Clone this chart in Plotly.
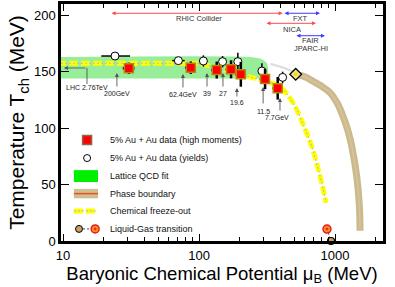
import numpy as np
import plotly.graph_objects as go

# ---------------- data ----------------
energies = ["200GeV", "62.4GeV", "39", "27", "19.6", "11.5", "7.7GeV"]

# 5% Au+Au high moments (red squares)
mu_moments = [30.5, 87, 135, 172, 203, 306, 379]
T_moments = [153.0, 153.6, 151.5, 152.1, 147.7, 143.5, 135.3]
T_moments_err = [5, 5.5, 7.5, 8, 11, 9, 10]
mu_moments_err = [3, 8, 12, 15, 18, 26, 32]

# 5% Au+Au yields (open circles)
mu_yields = [24.1, 70.5, 107.7, 149, 193, 290, 412]
T_yields = [163.9, 159.8, 159.5, 158.9, 158.9, 150.6, 145.0]
T_yields_err = [2, 3, 5, 5, 8, 7, 5]
mu_yields_err_plus = [7, 8, 6, 7, 8, 12, 15]
mu_yields_err_minus = [5, 7, 5, 6, 7, 10, 13]

# Lattice QCD fit band
lattice_mu = [9, 240, 290, 318]
lattice_T_high = [163, 163, 161, 157]
lattice_T_low = [144, 144, 144, 145]

# Chemical freeze-out curve
fo_mu = [9, 60, 100, 135, 190, 250, 314, 395, 467, 525, 582, 674, 754, 820, 859]
fo_T = [157.5, 157.5, 157, 153.5, 148.5, 144.5, 141.5, 136.5, 126.5, 116, 103.5, 84, 63.5, 45.5, 34]

# Phase boundary (first order) and crossover
pb_mu = [514, 600, 689, 800, 918, 1040, 1145, 1250, 1328, 1444, 1511, 1528]
pb_T = [147.7, 145.5, 141.5, 137, 131.5, 122, 110.5, 97, 84, 57.5, 31, 9]
cross_mu = [335, 420, 495]
cross_T = [157, 153.5, 150]

# Critical point
cp_mu = [514]
cp_T = [147.7]

# Liquid-gas transition
lg_mu = [873, 935]
lg_T = [10.6, 0]

# Energy label arrows (mu, head T, tail T, label T)
lab_mu = [24.9, 76.2, 114.5, 150, 190, 296, 394]
lab_head = [148.9, 148, 148.9, 148.9, 135.6, 136.5, 126.7]
lab_tail = [135.6, 134.7, 135.6, 135.6, 126.7, 120.5, 114.3]
lab_T = [130.3, 130.0, 130.8, 130.8, 122.9, 115.0, 109.6]
lab_text_mu = [24.9, 76.2, 114.5, 150, 190, 296, 372]

# facilities (name, mu_left, mu_right, T_arrow, color)
fac_names = ["RHIC", "FXT", "NICA", "FAIR"]
fac_left = [22.2, 415, 306, 508]
fac_right = [412, 776, 724, 843]
fac_T = [201.8, 201.8, 192.9, 181.9]
fac_colors = ["#ff4a4a", "#3a3aff", "#ff4a4a", "#3a3aff"]
fac_label = ["RHIC Collider", "FXT", "NICA", "FAIR", "JPARC-HI"]
fac_label_mu = [100, 560, 481, 662, 662]
fac_label_T = [197.3, 197.3, 187.6, 177.4, 170.2]

legend_labels = ["5% Au + Au data (high moments)", "5% Au + Au data (yields)",
                 "Lattice QCD fit", "Phase boundary", "Chemical freeze-out",
                 "Liquid-Gas transition"]

FONT = "Liberation Sans, Arial, Helvetica, sans-serif"
L = np.log10

fig = go.Figure()

# lattice band
fig.add_trace(go.Scatter(
    x=lattice_mu + lattice_mu[::-1], y=lattice_T_high + lattice_T_low[::-1],
    fill="toself", fillcolor="#98ee98", line=dict(width=0, shape="spline", smoothing=0.6),
    mode="lines", hoverinfo="skip", showlegend=False))

# crossover thin gray line
fig.add_trace(go.Scatter(x=cross_mu, y=cross_T, mode="lines",
                         line=dict(color="#dcdcdc", width=2), showlegend=False))

# phase boundary
fig.add_trace(go.Scatter(x=pb_mu, y=pb_T, mode="lines",
                         line=dict(color="#cbbb8c", width=7, shape="spline"),
                         showlegend=False))
fig.add_trace(go.Scatter(x=pb_mu, y=pb_T, mode="lines",
                         line=dict(color="#d9c2a0", width=1.5, shape="spline"),
                         showlegend=False))

# freeze-out curve
fig.add_trace(go.Scatter(x=fo_mu, y=fo_T, mode="lines",
                         line=dict(color="#ffff00", width=5, dash="9px,3px", shape="spline"),
                         showlegend=False))
fig.add_trace(go.Scatter(x=fo_mu, y=fo_T, mode="lines",
                         line=dict(color="#b8b8b8", width=1, dash="2px,2px", shape="spline"),
                         showlegend=False))

# yields (open circles)
fig.add_trace(go.Scatter(
    x=mu_yields, y=T_yields, mode="markers",
    marker=dict(symbol="circle", size=8, color="white", line=dict(color="black", width=1)),
    error_y=dict(type="data", array=T_yields_err, color="black", thickness=1.5, width=0),
    error_x=dict(type="data", array=mu_yields_err_plus, arrayminus=mu_yields_err_minus,
                 color="black", thickness=1.5, width=0),
    showlegend=False))

# high moments (red squares)
fig.add_trace(go.Scatter(
    x=mu_moments, y=T_moments, mode="markers",
    marker=dict(symbol="square", size=9, color="#ff0000", line=dict(color="#b8860b", width=1.5)),
    error_y=dict(type="data", array=T_moments_err, color="black", thickness=2.5, width=0),
    error_x=dict(type="data", array=mu_moments_err, color="black", thickness=2.5, width=0),
    showlegend=False))

# critical point
fig.add_trace(go.Scatter(x=cp_mu, y=cp_T, mode="markers",
                         marker=dict(symbol="diamond", size=9, color="#efe59a",
                                     line=dict(color="black", width=1.3)),
                         showlegend=False))
fig.add_trace(go.Scatter(x=cp_mu, y=cp_T, mode="markers",
                         marker=dict(symbol="circle", size=4, color="#f5e000",
                                     line=dict(width=0)),
                         showlegend=False))

# liquid-gas
fig.add_trace(go.Scatter(x=lg_mu, y=lg_T, mode="lines",
                         line=dict(color="#444", width=1, dash="2px,2px"), showlegend=False,
                         cliponaxis=False))
fig.add_trace(go.Scatter(x=lg_mu[:1], y=lg_T[:1], mode="markers",
                         marker=dict(symbol="circle-dot", size=8, color="#ff8c1a",
                                     line=dict(color="#e02020", width=1.5)),
                         showlegend=False, cliponaxis=False))
fig.add_trace(go.Scatter(x=lg_mu[1:], y=lg_T[1:], mode="markers",
                         marker=dict(symbol="circle", size=7, color="#c8a060",
                                     line=dict(color="black", width=1.2)),
                         showlegend=False, cliponaxis=False))

annotations = []
# energy labels with arrows
for m, h, t, ly, lm, txt in zip(lab_mu, lab_head, lab_tail, lab_T, lab_text_mu, energies):
    annotations.append(dict(x=L(m), y=h, ax=L(m), ay=t, axref="x", ayref="y",
                            xref="x", yref="y", showarrow=True, arrowhead=2,
                            arrowsize=0.9, arrowwidth=0.9, arrowcolor="#555", text=""))
    annotations.append(dict(x=L(lm), y=ly, xref="x", yref="y", text=txt, showarrow=False,
                            font=dict(family=FONT, size=7, color="#222")))

# LHC arrow
fig.add_shape(type="line", x0=15, x1=15, y0=139.1, y1=153.3, xref="x", yref="y",
              line=dict(color="#555", width=0.9))
annotations.append(dict(x=L(10.15), y=153.3, ax=L(15), ay=153.3, axref="x", ayref="y",
                        xref="x", yref="y", showarrow=True, arrowhead=2, arrowsize=0.9,
                        arrowwidth=0.9, arrowcolor="#555", text=""))
annotations.append(dict(x=L(15), y=135.6, xref="x", yref="y", text="LHC 2.76TeV",
                        showarrow=False, font=dict(family=FONT, size=7, color="#222")))

# facility arrows
for l0, r0, t0, c in zip(fac_left, fac_right, fac_T, fac_colors):
    annotations.append(dict(x=L(r0), y=t0, ax=L(l0), ay=t0, axref="x", ayref="y",
                            xref="x", yref="y", showarrow=True, arrowhead=2,
                            arrowside="end+start", arrowsize=0.8, arrowwidth=1,
                            arrowcolor=c, text=""))
for txt, m, t in zip(fac_label, fac_label_mu, fac_label_T):
    annotations.append(dict(x=L(m), y=t, xref="x", yref="y", text=txt, showarrow=False,
                            font=dict(family=FONT, size=7.5, color="#333")))

# ---------------- legend (drawn in overlay axes 0..1) ----------------
leg_y = [0.426, 0.350, 0.274, 0.200, 0.127, 0.051]
sw_x0, sw_x1, sw_c = 0.040, 0.115, 0.081

fig.add_trace(go.Scatter(x=[sw_c], y=[leg_y[0]], xaxis="x2", yaxis="y2", mode="markers",
                         marker=dict(symbol="square", size=9, color="#ff0000",
                                     line=dict(color="#8a6a4a", width=1.5)),
                         showlegend=False))
fig.add_trace(go.Scatter(x=[sw_c], y=[leg_y[1]], xaxis="x2", yaxis="y2", mode="markers",
                         marker=dict(symbol="circle", size=7, color="white",
                                     line=dict(color="black", width=1)),
                         showlegend=False))
fig.add_shape(type="rect", xref="x2", yref="y2", x0=sw_x0, x1=sw_x1,
              y0=leg_y[2] - 0.025, y1=leg_y[2] + 0.025, fillcolor="#00ee00",
              line=dict(width=0))
fig.add_shape(type="rect", xref="x2", yref="y2", x0=sw_x0, x1=sw_x1,
              y0=leg_y[3] - 0.02, y1=leg_y[3] + 0.02, fillcolor="#cfc093",
              line=dict(width=0))
fig.add_shape(type="line", xref="x2", yref="y2", x0=sw_x0, x1=sw_x1,
              y0=leg_y[3], y1=leg_y[3], line=dict(color="#e8502a", width=1.5))
fig.add_trace(go.Scatter(x=[sw_x0, sw_x1], y=[leg_y[4], leg_y[4]], xaxis="x2", yaxis="y2",
                         mode="lines", line=dict(color="#ffff00", width=5, dash="9px,3px"),
                         showlegend=False))
fig.add_trace(go.Scatter(x=[sw_x0, sw_x1], y=[leg_y[4], leg_y[4]], xaxis="x2", yaxis="y2",
                         mode="lines", line=dict(color="#b8b8b8", width=1, dash="2px,2px"),
                         showlegend=False))
fig.add_trace(go.Scatter(x=[0.056, 0.106], y=[leg_y[5], leg_y[5]], xaxis="x2", yaxis="y2",
                         mode="lines", line=dict(color="#444", width=1, dash="2px,2px"),
                         showlegend=False))
fig.add_trace(go.Scatter(x=[0.056], y=[leg_y[5]], xaxis="x2", yaxis="y2", mode="markers",
                         marker=dict(symbol="circle", size=7, color="#c8a060",
                                     line=dict(color="black", width=1)),
                         showlegend=False))
fig.add_trace(go.Scatter(x=[0.106], y=[leg_y[5]], xaxis="x2", yaxis="y2", mode="markers",
                         marker=dict(symbol="circle-dot", size=8, color="#ff8c1a",
                                     line=dict(color="#e02020", width=1.5)),
                         showlegend=False))
for txt, y in zip(legend_labels, leg_y):
    annotations.append(dict(x=0.145, y=y, xref="x2", yref="y2", text=txt, showarrow=False,
                            xanchor="left", yanchor="middle",
                            font=dict(family=FONT, size=9, color="#111")))

minor_vals = [v * 10 ** d for d in (1, 2) for v in range(2, 10)] + [2000]

fig.update_layout(
    template="none",
    width=395, height=287,
    margin=dict(l=61, r=12, t=4, b=46),
    paper_bgcolor="white", plot_bgcolor="white",
    font=dict(family=FONT, color="black"),
    showlegend=False,
    annotations=annotations,
    xaxis=dict(type="log", range=[0.985, 3.353], tickvals=[10, 100, 1000],
               ticktext=["10", "100", "1000"], ticks="inside", ticklen=7, tickwidth=1.2,
               tickcolor="black", showline=True, linewidth=3, linecolor="black",
               mirror="allticks", showgrid=False, zeroline=False, automargin=False,
               tickfont=dict(size=13, family=FONT),
               minor=dict(ticks="inside", ticklen=4, tickvals=minor_vals, tickcolor="black",
                          showgrid=False),
               title=dict(text="Baryonic Chemical Potential μ<sub>B</sub> (MeV)",
                          font=dict(size=18.5, family=FONT), standoff=2)),
    yaxis=dict(range=[0, 210], tickvals=[0, 50, 100, 150, 200], ticks="inside", ticklen=8,
               tickwidth=1.2, tickcolor="black", showline=True, linewidth=2.5,
               linecolor="black", mirror="allticks", showgrid=False, zeroline=False,
               automargin=False,
               tickfont=dict(size=13, family=FONT),
               title=dict(text="Temperature T<sub>ch</sub> (MeV)",
                          font=dict(size=21, family=FONT), standoff=4)),
    xaxis2=dict(range=[0, 1], overlaying="x", visible=False, showgrid=False),
    yaxis2=dict(range=[0, 1], overlaying="y", visible=False, showgrid=False),
)

fig.write_html("out.html", config={"displayModeBar": False},
               post_script="document.body.style.margin='0px';"
                           "document.body.style.overflow='hidden';")
